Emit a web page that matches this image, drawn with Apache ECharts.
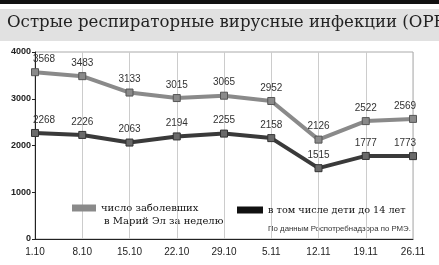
<!DOCTYPE html>
<html>
<head>
<meta charset="utf-8">
<script src="https://cdn.jsdelivr.net/npm/echarts@6/dist/echarts.min.js"></script>
<style>
  html, body { margin: 0; padding: 0; background: #fff; }
  #chart { width: 439px; height: 265px; }
</style>
</head>
<body>
<div id="chart"></div>
<script>
const weeks = ["1.10", "8.10", "15.10", "22.10", "29.10", "5.11", "12.11", "19.11", "26.11"];
const sickTotal = [3568, 3483, 3133, 3015, 3065, 2952, 2126, 2522, 2569];
const sickKids = [2268, 2226, 2063, 2194, 2255, 2158, 1515, 1777, 1773];
const yTicks = [0, 1000, 2000, 3000, 4000];

const nameTotal = "число заболевших";
const nameTotalLine2 = "в Марий Эл за неделю";
const nameKids = "в том числе дети до 14 лет";

const chart = echarts.init(document.getElementById("chart"));

const labelStyle = {
  show: true,
  position: "top",
  distance: 4,
  fontFamily: "Arial, Liberation Sans",
  fontSize: 10,
  color: "#333",
};

// first and last labels are nudged inwards, as in the original
function withLabels(values) {
  return values.map((v, i) => {
    if (i === 0) return { value: v, label: { offset: [9, 0] } };
    if (i === values.length - 1) return { value: v, label: { offset: [-8, 0] } };
    return v;
  });
}

chart.setOption({
  animation: false,
  backgroundColor: "#fff",
  graphic: [
    { type: "rect", shape: { x: 0, y: 0, width: 439, height: 4 }, style: { fill: "#111" } },
    { type: "rect", shape: { x: 0, y: 9, width: 439, height: 32 }, style: { fill: "#e1e1e1" } },
    {
      type: "text", left: 7, top: 14,
      style: {
        text: "Острые респираторные вирусные инфекции (ОРВИ)",
        font: "16.6px 'DejaVu Serif'",
        fill: "#222",
      },
    },
    {
      type: "text", left: 104, top: 216,
      style: { text: nameTotalLine2, font: "10px 'DejaVu Serif'", fill: "#111" },
    },
    {
      type: "text", left: 268, top: 225,
      style: {
        text: "По данным Роспотребнадзора по РМЭ.",
        font: "7.8px 'Liberation Sans', Arial",
        fill: "#333",
      },
    },
  ],
  grid: {
    left: 35, right: 26, top: 52, bottom: 26,
    show: true, borderColor: "#aaa", borderWidth: 1,
  },
  legend: [
    {
      data: [nameTotal],
      left: 72, top: 203, padding: 0,
      icon: "rect", itemWidth: 24, itemHeight: 7, itemGap: 8,
      itemStyle: { borderWidth: 0, color: "#8a8a8a" },
      textStyle: { fontFamily: "DejaVu Serif", fontSize: 10, color: "#111" },
    },
    {
      data: [nameKids],
      left: 237, top: 205, padding: 0,
      icon: "rect", itemWidth: 26, itemHeight: 7, itemGap: 8,
      itemStyle: { borderWidth: 0, color: "#111" },
      textStyle: { fontFamily: "DejaVu Serif", fontSize: 9.7, color: "#111" },
    },
  ],
  xAxis: {
    type: "category",
    data: weeks,
    boundaryGap: false,
    axisLine: { lineStyle: { color: "#222", width: 1 } },
    axisTick: { show: false },
    axisLabel: { fontFamily: "Arial, Liberation Sans", fontSize: 10, color: "#222", margin: 8 },
    splitLine: { show: true, lineStyle: { color: "#ccc", width: 1 } },
  },
  yAxis: {
    type: "value",
    min: yTicks[0],
    max: yTicks[yTicks.length - 1],
    interval: 1000,
    axisLine: { show: true, lineStyle: { color: "#222", width: 1 } },
    axisTick: { show: true, length: 3, lineStyle: { color: "#222" } },
    axisLabel: {
      fontFamily: "Arial, Liberation Sans", fontSize: 9, fontWeight: "bold", color: "#222", margin: 4,
      formatter: (v) => String(v),
    },
    splitLine: { show: false },
  },
  series: [
    {
      name: nameTotal,
      type: "line",
      data: withLabels(sickTotal),
      color: "#8a8a8a",
      lineStyle: { width: 4, color: "#8a8a8a" },
      symbol: "rect",
      symbolSize: 7,
      itemStyle: { color: "#8a8a8a", borderColor: "#555", borderWidth: 1 },
      label: labelStyle,
    },
    {
      name: nameKids,
      type: "line",
      data: withLabels(sickKids),
      color: "#3a3a3a",
      lineStyle: { width: 4, color: "#3a3a3a" },
      symbol: "rect",
      symbolSize: 7,
      itemStyle: { color: "#6a6a6a", borderColor: "#333", borderWidth: 1 },
      label: labelStyle,
    },
  ],
});
</script>
</body>
</html>
